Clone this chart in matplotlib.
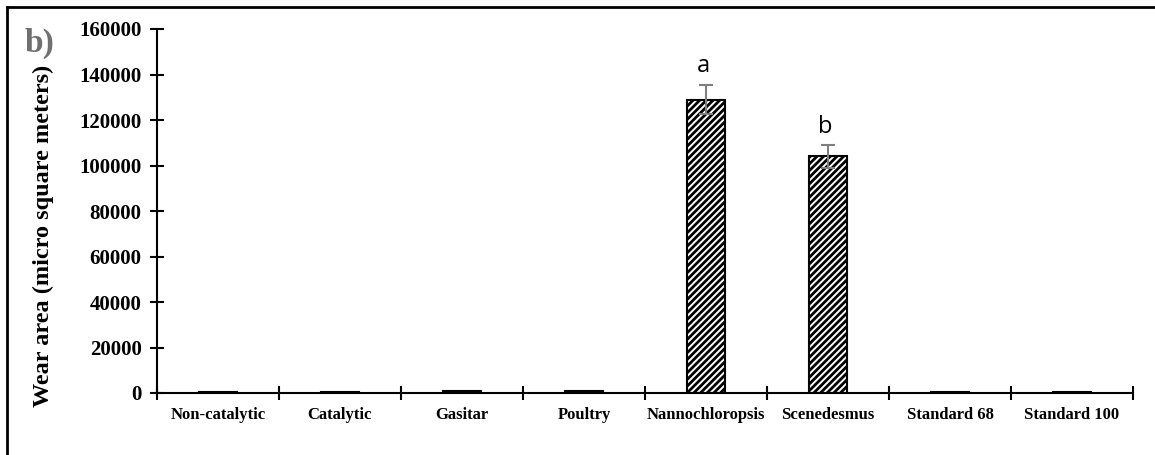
import matplotlib
matplotlib.use("Agg")
import matplotlib.pyplot as plt
import numpy as np
from matplotlib.lines import Line2D

categories = ["Non-catalytic", "Catalytic", "Gasitar", "Poultry",
              "Nannochloropsis", "Scenedesmus", "Standard 68", "Standard 100"]
wear_area = [500, 300, 700, 700, 129000, 104000, 400, 400]
wear_err = [0, 0, 0, 0, 6500, 5000, 0, 0]
sig_letters = ["", "", "", "", "a", "b", "", ""]
yticks = [0, 20000, 40000, 60000, 80000, 100000, 120000, 140000, 160000]

W, H = 1155, 455
plt.rcParams['hatch.linewidth'] = 2.0
fig = plt.figure(figsize=(W/100, H/100), dpi=100)
ax = fig.add_axes([157/W, 1-393/H, (1133-157)/W, (393-29)/H])

x = np.arange(len(categories))
ax.bar(x, wear_area, width=0.31, color="white", edgecolor="black",
       hatch="/////", linewidth=1.5, zorder=2)
for xi, v, e in zip(x, wear_area, wear_err):
    if e > 0:
        ax.errorbar(xi, v, yerr=e, fmt="none", ecolor="#7f7f7f",
                    elinewidth=1.5, capsize=5, capthick=1.5, zorder=3)
for xi, v, e, s in zip(x, wear_area, wear_err, sig_letters):
    if s:
        ax.text(xi - 0.02, v + e + 2800, s, ha="center", va="bottom",
                fontsize=17, family="Open Sans")

ax.set_xlim(-0.5, len(categories) - 0.5)
ax.set_ylim(0, 160000)
ax.set_yticks(yticks)
ax.set_yticklabels([str(t) for t in yticks], family="Liberation Serif",
                   fontweight="bold", fontsize=15)
ax.set_xticks(np.arange(-0.5, len(categories)), minor=False)
ax.set_xticklabels([])
ax.set_xticks(x, minor=True)
ax.set_xticklabels(categories, minor=True, family="Liberation Serif",
                   fontweight="bold", fontsize=12)
ax.tick_params(axis="x", which="major", direction="inout", length=10, width=1.5)
ax.tick_params(axis="x", which="minor", length=0, pad=10)
ax.tick_params(axis="y", direction="inout", length=10, width=1.5, pad=6)
for s in ["top", "right"]:
    ax.spines[s].set_visible(False)
for s in ["left", "bottom"]:
    ax.spines[s].set_linewidth(1.5)

fig.text(43/W, 1-236/H, "Wear area (micro square meters)", family="Liberation Serif",
         fontweight="bold", fontsize=17.5, rotation=90, ha="center", va="center")

fig.text(25/W, 1-43/H, "b)", family="Liberation Serif", fontweight="bold",
         fontsize=24, color="#707070", va="center", ha="left")

fig.add_artist(Line2D([7/W, 7/W], [0, 1-7/H], color="black", lw=2,
                      transform=fig.transFigure))
fig.add_artist(Line2D([7/W, 1], [1-7/H, 1-7/H], color="black", lw=2,
                      transform=fig.transFigure))

fig.savefig("out.png", dpi=100)
